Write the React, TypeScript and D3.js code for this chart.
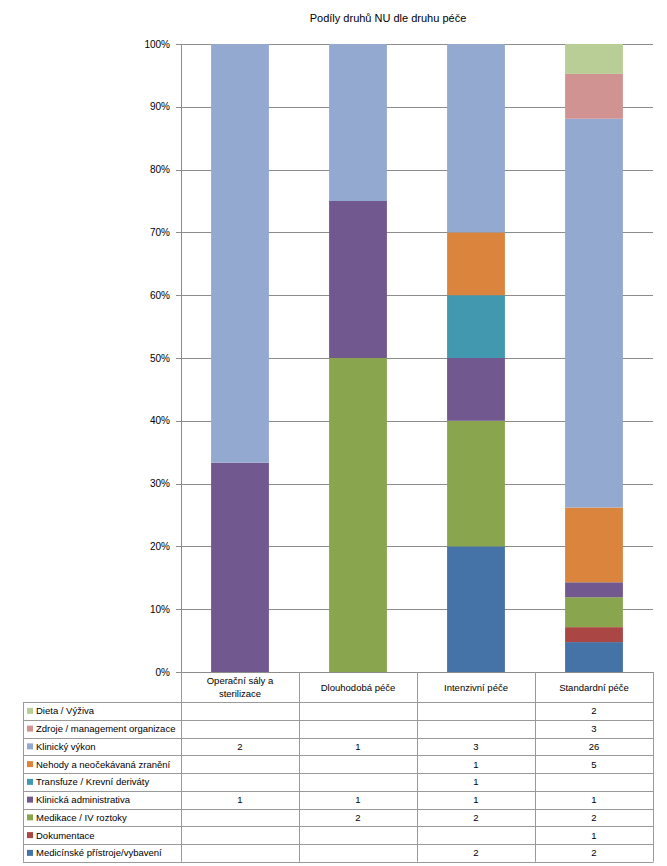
import React from "react";
import * as d3 from "d3";

const title = "Podíly druhů NU dle druhu péče";
const categories = ["Operační sály a sterilizace", "Dlouhodobá péče", "Intenzivní péče", "Standardní péče"];
const categoryLines = [["Operační sály a", "sterilizace"], ["Dlouhodobá péče"], ["Intenzivní péče"], ["Standardní péče"]];
// series in stacking order (bottom to top)
const seriesNames = [
  "Medicínské přístroje/vybavení",
  "Dokumentace",
  "Medikace / IV roztoky",
  "Klinická administrativa",
  "Transfuze / Krevní deriváty",
  "Nehody a neočekávaná zranění",
  "Klinický výkon",
  "Zdroje / management organizace",
  "Dieta / Výživa",
];
const seriesColors = ["#4572A7", "#AA4643", "#89A54E", "#71588F", "#4198AF", "#DB843D", "#93A9CF", "#D19392", "#B9CD96"];
// values per series, per category (null = empty cell)
const medicinske = [null, null, 2, 2];
const dokumentace = [null, null, null, 1];
const medikace = [null, 2, 2, 2];
const administrativa = [1, 1, 1, 1];
const transfuze = [null, null, 1, null];
const nehody = [null, null, 1, 5];
const klinickyVykon = [2, 1, 3, 26];
const zdroje = [null, null, null, 3];
const dieta = [null, null, null, 2];
const seriesValues = [medicinske, dokumentace, medikace, administrativa, transfuze, nehody, klinickyVykon, zdroje, dieta];
const yTicks = [0, 0.1, 0.2, 0.3, 0.4, 0.5, 0.6, 0.7, 0.8, 0.9, 1];

const FONT = "'Liberation Sans', Arial, sans-serif";

export default function App() {
  const W = 667, H = 866;
  const left = 181, right = 653, top = 44, bottom = 672;
  const y = d3.scaleLinear().domain([0, 1]).range([bottom, top]);
  const xCol = d3.scaleBand<string>().domain(categories).range([left, right]).padding(0);
  const xBar = d3.scaleBand<string>().domain(categories).range([left, right]).paddingInner(0.51).paddingOuter(0.255);

  const rows = categories.map((c, ci) => {
    const r: any = { cat: c };
    seriesNames.forEach((s, si) => (r[s] = seriesValues[si][ci] ?? 0));
    return r;
  });
  const totals = categories.map((c, ci) => seriesValues.reduce((a, s) => a + (s[ci] ?? 0), 0));
  const stack = d3.stack<any>().keys(seriesNames)(rows);

  const headerBottom = 702;
  const tableLeft = 23;
  const rowH = 17.75;
  const tableRows = [...seriesNames].reverse();
  const gray = "#8c8c8c";
  const tableGray = "#9a9a9a";

  return (
    <svg width={W} height={H} style={{ position: "absolute", left: 0, top: 0, background: "#fff" }} fontFamily={FONT}>
      <rect x={0} y={0} width={W} height={H} fill="#fff" />
      <text x={388} y={22} fontSize={11} textAnchor="middle" fill="#000">{title}</text>
      {yTicks.map((t) => (
        <g key={t}>
          <line x1={left - 5} x2={right} y1={Math.round(y(t)) + 0.5} y2={Math.round(y(t)) + 0.5} stroke={gray} strokeWidth={1} />
          <text x={170} y={y(t) + 3.5} fontSize={10} textAnchor="end" fill="#000">{d3.format(".0%")(t)}</text>
        </g>
      ))}
      {stack.map((layer, si) => (
        <g key={si} fill={seriesColors[si]}>
          {layer.map((d, ci) => {
            const tot = totals[ci];
            const y0 = d[0] / tot, y1 = d[1] / tot;
            if (y1 - y0 <= 0) return null;
            return <rect key={ci} x={xBar(categories[ci])} width={xBar.bandwidth()} y={y(y1)} height={y(y0) - y(y1)} />;
          })}
        </g>
      ))}
      <line x1={left + 0.5} x2={left + 0.5} y1={top} y2={bottom} stroke={gray} />
      {/* category header cells */}
      {categories.map((c, ci) => {
        const cx = (xCol(c) as number) + xCol.bandwidth() / 2;
        const lines = categoryLines[ci];
        const mid = (bottom + headerBottom) / 2;
        return (
          <text key={c} x={cx} fontSize={9.5} textAnchor="middle" fill="#000">
            {lines.map((l, li) => (
              <tspan key={li} x={cx} y={mid + 3.5 + (li - (lines.length - 1) / 2) * 13}>{l}</tspan>
            ))}
          </text>
        );
      })}
      {/* table grid */}
      <line x1={left} x2={right} y1={bottom + 0.5} y2={bottom + 0.5} stroke={gray} />
      {[...categories.map((c) => xCol(c) as number), right].map((x, i) => (
        <line key={i} x1={x + 0.5} x2={x + 0.5} y1={bottom} y2={headerBottom + rowH * 9} stroke={tableGray} />
      ))}
      <line x1={tableLeft + 0.5} x2={tableLeft + 0.5} y1={headerBottom} y2={headerBottom + rowH * 9} stroke={tableGray} />
      {d3.range(10).map((i) => (
        <line key={i} x1={tableLeft} x2={right + 0.5} y1={Math.round(headerBottom + i * rowH) + 0.5} y2={Math.round(headerBottom + i * rowH) + 0.5} stroke={tableGray} />
      ))}
      {tableRows.map((s, ri) => {
        const si = seriesNames.indexOf(s);
        const cy = headerBottom + ri * rowH + rowH / 2;
        return (
          <g key={s}>
            <rect x={27} y={cy - 3} width={6} height={6} fill={seriesColors[si]} />
            <text x={36} y={cy + 3.5} fontSize={9.5} fill="#000">{s}</text>
            {categories.map((c, ci) => {
              const v = seriesValues[si][ci];
              if (v == null) return null;
              return (
                <text key={c} x={(xCol(c) as number) + xCol.bandwidth() / 2} y={cy + 3.5} fontSize={9.5} textAnchor="middle" fill="#000">{v}</text>
              );
            })}
          </g>
        );
      })}
    </svg>
  );
}
